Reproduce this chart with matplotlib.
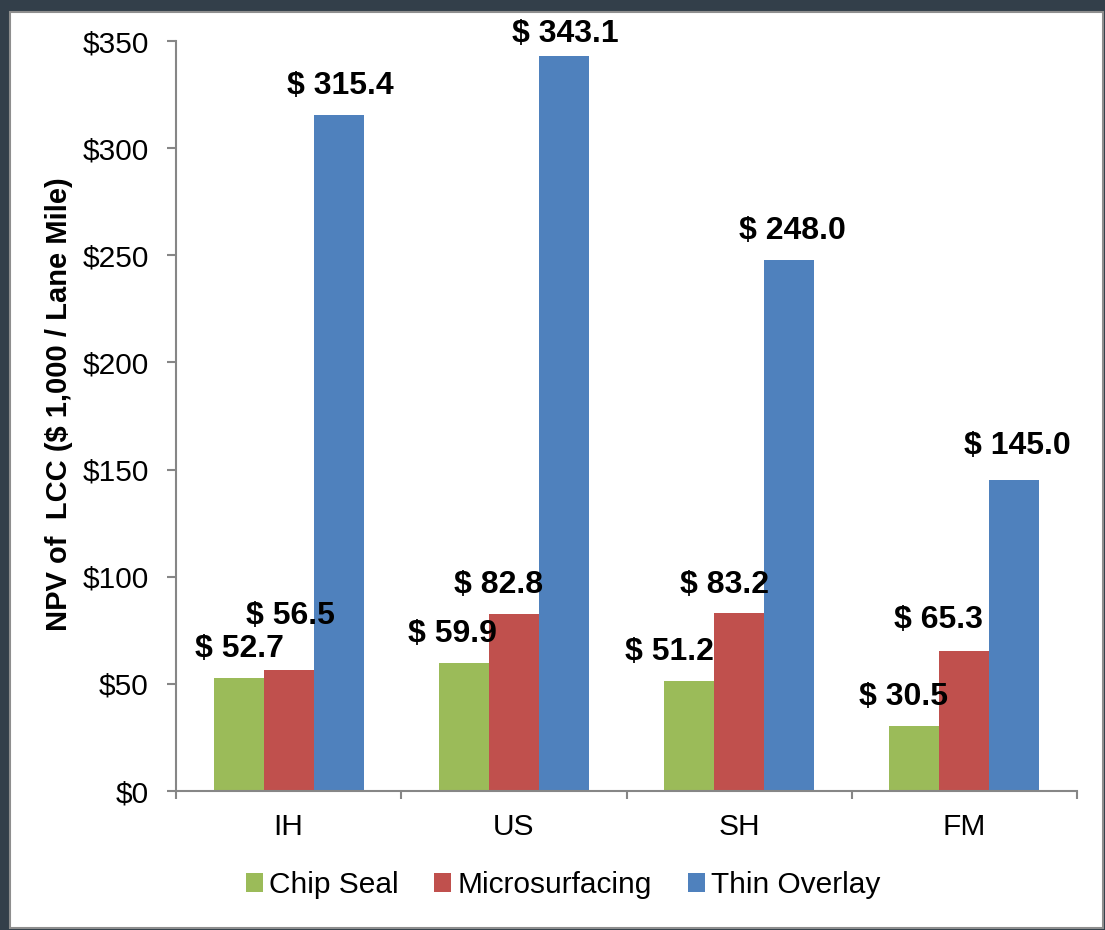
import numpy as np
import matplotlib
matplotlib.use('Agg')
import matplotlib.pyplot as plt
from matplotlib.patches import Rectangle, Patch

plt.rcParams['font.family'] = ['Liberation Sans', 'DejaVu Sans']

categories = ['IH', 'US', 'SH', 'FM']
series_names = ['Chip Seal', 'Microsurfacing', 'Thin Overlay']
chip_seal = [52.7, 59.9, 51.2, 30.5]
microsurfacing = [56.5, 82.8, 83.2, 65.3]
thin_overlay = [315.4, 343.1, 248.0, 145.0]
yticks = [0, 50, 100, 150, 200, 250, 300, 350]

colors = ['#9BBB59', '#C0504D', '#4F81BD']
# label nudges in pixels (dx, dy from bar top), hand placed like the original sheet
label_shift = [
    [(1, 29), (-11, 29), (-20, 29), (-11, 29)],
    [(2, 54), (-15, 29), (-15, 28), (-26, 31)],
    [(2, 29), (1, 22), (3, 29), (3, 34)],
]

W, H, DPI = 1105, 930, 100
fig = plt.figure(figsize=(W / DPI, H / DPI), dpi=DPI, facecolor='#333F4A')
# white slide panel with grey rim
fig.add_artist(Rectangle((10 / W, 2 / H), 1093 / W, 916 / H, transform=fig.transFigure,
                         facecolor='white', edgecolor='#8E8E8E', lw=1.5, zorder=0))

ax = fig.add_axes([176 / W, (H - 791) / H, (1077 - 176) / W, 750 / H])
ax.set_facecolor('none')

x = np.arange(len(categories))
bw = 1 / 4.5
px2pt = 72 / DPI
for i, (vals, name) in enumerate(zip([chip_seal, microsurfacing, thin_overlay], series_names)):
    xs = x + (i - 1) * bw
    ax.bar(xs, vals, width=bw, color=colors[i], label=name, zorder=2)
    for j, (xx, v) in enumerate(zip(xs, vals)):
        dx, dy = label_shift[i][j]
        ax.annotate('$ %.1f' % v, xy=(xx, v), xytext=(dx * px2pt, dy * px2pt),
                    textcoords='offset points', ha='center', va='center',
                    fontsize=23, fontweight='bold', color='black', zorder=3)

ax.set_xlim(-0.5, 3.5)
ax.set_ylim(0, 350)
ax.set_yticks(yticks)
ax.set_yticklabels(['$%d' % t for t in yticks])
ax.set_xticks(np.arange(-0.5, 4, 1))
ax.set_xticklabels([])
ax.set_xticks(x, minor=True)
ax.set_xticklabels(categories, minor=True)
ax.tick_params(axis='x', which='minor', length=0, pad=16, labelsize=21.5)
ax.tick_params(axis='x', which='major', length=6, width=1.5, color='#868686')
ax.tick_params(axis='y', length=6.5, width=1.5, color='#868686', pad=13, labelsize=21.5)

for s in ['top', 'right']:
    ax.spines[s].set_visible(False)
for s in ['left', 'bottom']:
    ax.spines[s].set_color('#868686')
    ax.spines[s].set_linewidth(1.5)

fig.text(59 / W, (H - 404) / H, 'NPV of  LCC ($ 1,000 / Lane Mile)', rotation=90,
         ha='center', va='center', fontsize=21, fontweight='bold')

handles = [Patch(facecolor=c, label=n) for c, n in zip(colors, series_names)]
fig.legend(handles=handles, loc='center', bbox_to_anchor=(563 / W, (H - 885) / H),
           ncol=3, frameon=False, fontsize=21.5, handlelength=0.57, handleheight=0.6,
           handletextpad=0.2, columnspacing=1.2, borderpad=0)

fig.savefig('out.png', dpi=DPI, facecolor=fig.get_facecolor())
